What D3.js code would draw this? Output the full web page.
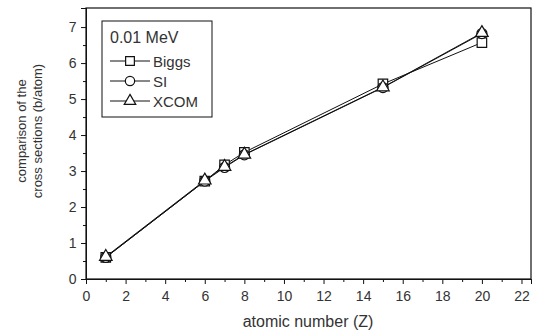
<!DOCTYPE html>
<html>
<head>
<meta charset="utf-8">
<script src="https://cdn.jsdelivr.net/npm/d3@7"></script>
<style>
body { margin: 0; background: #fff; }
text { font-family: "Liberation Sans", Arial, sans-serif; fill: #333; }
</style>
</head>
<body>
<div id="chart"></div>
<script>
// atomic numbers and cross sections at 0.01 MeV
var zValues = [1, 6, 7, 8, 15, 20];
var biggs = [0.60, 2.72, 3.17, 3.52, 5.42, 6.57];
var si = [0.60, 2.72, 3.10, 3.45, 5.32, 6.82];
var xcom = [0.62, 2.74, 3.12, 3.46, 5.33, 6.84];
var seriesNames = ["Biggs", "SI", "XCOM"];
var seriesSymbols = ["square", "circle", "triangle"];
var xTicks = [0, 2, 4, 6, 8, 10, 12, 14, 16, 18, 20, 22];
var yTicks = [0, 1, 2, 3, 4, 5, 6, 7];

var width = 537, height = 333;
var plotLeft = 86, plotRight = 531, plotTop = 8, plotBottom = 279;

var svg = d3.select("#chart").append("svg").attr("width", width).attr("height", height);

var x = d3.scaleLinear().domain([0, 22.48]).range([plotLeft, plotRight]);
var y = d3.scaleLinear().domain([0, 7.53]).range([plotBottom, plotTop]);

// frame
svg.append("rect").attr("x", plotLeft).attr("y", plotTop)
	.attr("width", plotRight - plotLeft).attr("height", plotBottom - plotTop)
	.attr("fill", "none").attr("stroke", "#111").attr("stroke-width", 1.2);

// bottom axis, major + minor ticks
var xAxis = svg.append("g").attr("transform", "translate(0," + plotBottom + ")")
	.call(d3.axisBottom(x).tickValues(xTicks).tickSize(5).tickFormat(d3.format("d")));
svg.append("g").attr("transform", "translate(0," + plotBottom + ")")
	.call(d3.axisBottom(x).tickValues(d3.range(1, 22, 2)).tickSize(3).tickFormat(""));

var yAxis = svg.append("g").attr("transform", "translate(" + plotLeft + ",0)")
	.call(d3.axisLeft(y).tickValues(yTicks).tickSize(5).tickFormat(d3.format("d")));
svg.append("g").attr("transform", "translate(" + plotLeft + ",0)")
	.call(d3.axisLeft(y).tickValues(d3.range(0.5, 7.5, 1)).tickSize(3).tickFormat(""));

svg.selectAll(".domain").attr("stroke", "#111");
svg.selectAll(".tick line").attr("stroke", "#111");
svg.selectAll(".tick text").style("font-size", "14px").attr("fill", "#444")
	.style("font-family", "'Liberation Sans', Arial, sans-serif");
xAxis.selectAll(".tick text").attr("dy", "1.0em");
yAxis.selectAll(".tick text").attr("dx", "-0.1em");

// axis titles
svg.append("text").attr("x", 308).attr("y", 327).attr("text-anchor", "middle")
	.style("font-size", "16px").text("atomic number (Z)");
svg.append("text").attr("transform", "translate(26,131) rotate(-90)").attr("text-anchor", "middle")
	.style("font-size", "13px").text("comparison of the");
svg.append("text").attr("transform", "translate(42,131) rotate(-90)").attr("text-anchor", "middle")
	.style("font-size", "13px").text("cross sections (b/atom)");

// marker shapes
function symbolPath(kind, scale) {
	var k = scale || 1;
	if (kind === "square") return d3.symbol().type(d3.symbolSquare).size(90 * k)();
	if (kind === "circle") return d3.symbol().type(d3.symbolCircle).size(80 * k)();
	return d3.symbol().type(d3.symbolTriangle).size(68 * k)();
}

var allSeries = [biggs, si, xcom];
var line = d3.line().x(function(d, i){ return x(zValues[i]); }).y(function(d){ return y(d); });

allSeries.forEach(function(vals, s) {
	svg.append("path").datum(vals).attr("d", line)
		.attr("fill", "none").attr("stroke", "#111").attr("stroke-width", 1);
});
allSeries.forEach(function(vals, s) {
	svg.selectAll(".m" + s).data(vals).enter().append("path")
		.attr("class", "m" + s)
		.attr("transform", function(d, i){ return "translate(" + x(zValues[i]) + "," + y(d) + ")"; })
		.attr("d", symbolPath(seriesSymbols[s]))
		.attr("fill", "#fff").attr("stroke", "#111").attr("stroke-width", 1.2);
});

// legend
var legend = svg.append("g");
legend.append("rect").attr("x", 102).attr("y", 21).attr("width", 110).attr("height", 96)
	.attr("fill", "#fff").attr("stroke", "#111").attr("stroke-width", 1);
legend.append("text").attr("x", 110).attr("y", 43).style("font-size", "16px").text("0.01 MeV");
seriesNames.forEach(function(name, s) {
	var cy = 61 + s * 20;
	legend.append("line").attr("x1", 110).attr("x2", 150).attr("y1", cy).attr("y2", cy)
		.attr("stroke", "#111").attr("stroke-width", 1);
	legend.append("path").attr("transform", "translate(130," + cy + ")")
		.attr("d", symbolPath(seriesSymbols[s], 0.85))
		.attr("fill", "#fff").attr("stroke", "#111").attr("stroke-width", 1.2);
	legend.append("text").attr("x", 153).attr("y", cy + 6).style("font-size", "15px").text(name);
});
</script>
</body>
</html>
